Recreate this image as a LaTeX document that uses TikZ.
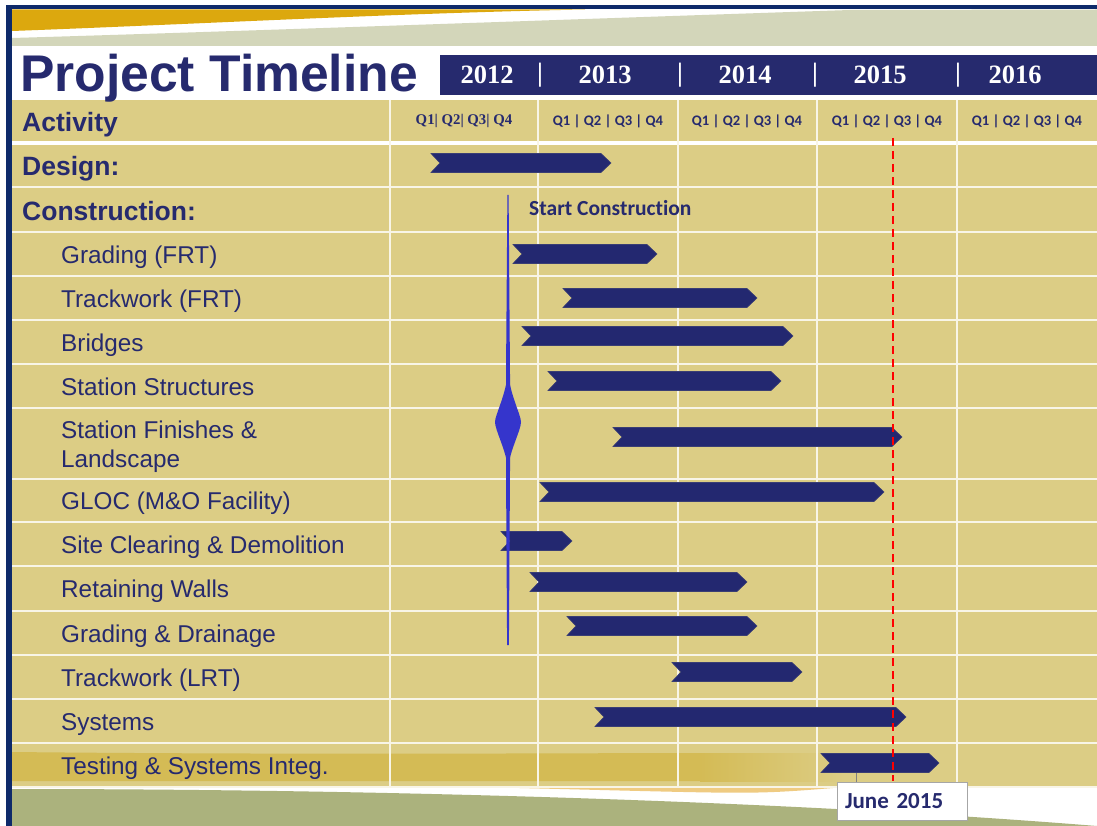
\documentclass[tikz,border=0pt]{standalone}
\usepackage{fontspec}
\setmainfont{Liberation Sans}
\newfontfamily\calfont[Ligatures=NoCommon]{Carlito}
\newfontfamily\tmsfont{Liberation Serif}
\usetikzlibrary{positioning}

\definecolor{ink}{HTML}{262A6E}
\definecolor{barblue}{HTML}{232870}
\definecolor{sheet}{HTML}{DCCD85}
\definecolor{stripe}{HTML}{D4BB55}
\definecolor{bordernavy}{HTML}{0E2A6A}
\definecolor{swgold}{HTML}{DCA80E}
\definecolor{sage}{HTML}{D3D6BA}
\definecolor{olivegreen}{HTML}{ABB27D}
\definecolor{peach}{HTML}{EFCB82}
\definecolor{msblue}{HTML}{3535CC}

% one task: centre y, start x, end x
\newcommand\taskbar[3]{%
  \filldraw[barfill] (#2,#1-9.5) -- (#3-10,#1-9.5) -- (#3,#1) -- (#3-10,#1+9.5)
    -- (#2,#1+9.5) -- (#2+9,#1) -- cycle;}

\begin{document}
\begin{tikzpicture}[x=1pt,y=-1pt,
    lbl/.style={anchor=west,inner sep=0pt,text=ink,
      font=\fontsize{24.3}{29}\selectfont,text height=17.4pt,text depth=0pt},
    grouplbl/.style={lbl,font=\bfseries\fontsize{26.5}{32}\selectfont,text height=19pt},
    year/.style={text=white,inner sep=0pt,font=\tmsfont\bfseries\fontsize{26.5}{32}\selectfont},
    quarter/.style={text=ink,inner sep=0pt,font=\calfont\bfseries\fontsize{14.6}{17}\selectfont},
    gridline/.style={white!80!sheet,line width=1.5pt},
    barfill/.style={fill=barblue,draw=barblue!75!gray,line width=0.6pt}]
  \useasboundingbox (0,0) rectangle (1097,826);

  % background and swooshes
  \fill[white] (0,0) rectangle (1097,826);
  \fill[swgold] (12,9.5) -- (585,9.5) .. controls (400,13) and (200,24) .. (12,31) -- cycle;
  \fill[sage] (12,38) .. controls (250,31) and (550,20) .. (850,10) -- (1097,9.5)
    -- (1097,46) -- (12,46) -- cycle;
  \fill[sheet] (12,100) rectangle (1097,787);
  \fill[stripe] (12,752) .. controls (300,755) and (600,753) .. (700,753)
    -- (700,781) -- (12,781) -- cycle;
  \shade[left color=stripe,right color=sheet] (700,753) rectangle (845,781);
  \fill[peach] (480,787) -- (845,787) .. controls (760,794) .. (600,790) -- cycle;
  \fill[olivegreen] (12,789) .. controls (400,789) and (800,802) .. (1097,826)
    -- (12,826) -- cycle;
  \fill[bordernavy] (6,5) rectangle (1097,9.5);
  \fill[bordernavy] (6,5) rectangle (12,826);

  % title and years
  \node[anchor=base west,inner sep=0pt,text=ink,font=\bfseries\fontsize{51.6}{60}\selectfont]
    (title) at (20,92) {Project Timeline};
  \fill[ink] (440,55) rectangle (1097,95);
  \foreach \x/\t [count=\i] in {487/2012,605/2013,745/2014,880/2015,1015/2016}
    \node[year] (y\i) at (\x,75) {\t};
  \foreach \x [count=\i] in {540,680,815,958}
    \node[year] (sep\i) at (\x,75) {|};

  % grid
  \foreach \y in {187,232,276,320,364,408,479,522,566,611,655,699,743,787}
    \draw[gridline] (12,\y) -- (1097,\y);
  \draw[white,line width=3.5pt] (12,143) -- (1097,143);
  \foreach \x in {390,538,678,817,957}
    \draw[gridline] (\x,100) -- (\x,787);

  % header row
  \node[grouplbl] (activity) at (22,122) {Activity};
  \node[quarter,font=\tmsfont\bfseries\fontsize{14.8}{17}\selectfont] (q1) at (464,121) {Q1| Q2| Q3| Q4};
  \foreach \x [count=\i from 2] in {608,747,887,1027}
    \node[quarter] (q\i) at (\x,121) {Q1 | Q2 | Q3 | Q4};

  % activities
  \node[grouplbl] (design) at (22,166) {Design:};
  \node[grouplbl] (constr) at (22,211) {Construction:};
  \node[lbl] (gradfrt) at (61,255) {Grading (FRT)};
  \node[lbl] (trackfrt) at (61,299) {Trackwork (FRT)};
  \node[lbl] (bridges) at (61,343) {Bridges};
  \node[lbl] (ststruct) at (61,387) {Station Structures};
  \node[lbl] (stfin) at (61,430) {Station Finishes \&};
  \node[lbl] (landsc) at (61,459) {Landscape};
  \node[lbl] (gloc) at (61,501) {GLOC (M\&O Facility)};
  \node[lbl] (siteclr) at (61,545) {Site Clearing \& Demolition};
  \node[lbl] (retwall) at (61,589) {Retaining Walls};
  \node[lbl] (graddr) at (61,634) {Grading \& Drainage};
  \node[lbl] (tracklrt) at (61,678) {Trackwork (LRT)};
  \node[lbl] (systems) at (61,722) {Systems};
  \node[lbl] (testing) at (61,766) {Testing \& Systems Integ.};

  % bars
  \foreach \y/\a/\b in {163/431/611,254/513/657,298/563/757,336/522/793,
      381/548/781,437/613/902,492/540/884,541/501/572,582/530/747,
      626/567/757,672/672/802,717/595/906,763/821/939}
    {\taskbar{\y}{\a}{\b}}

  % start of construction
  \fill[msblue] (507.4,195) -- (508.6,195) -- (510,375) -- (510,470) -- (508.9,645)
    -- (507.1,645) -- (506,470) -- (506,375) -- cycle;
  \fill[msblue] (508,372) .. controls (510,395) and (521,415) .. (521,422)
    .. controls (521,430) and (510,450) .. (508,468)
    .. controls (506,450) and (495,430) .. (495,422)
    .. controls (495,415) and (506,395) .. (508,372) -- cycle;
  \node[anchor=west,inner sep=0pt,text=ink,font=\calfont\bfseries\fontsize{21.5}{25}\selectfont]
    (startc) at (529,208) {Start Construction};

  % today line
  \coordinate (nowtop) at (893,138);
  \coordinate (nowbot) at (893,781);
  \draw[red,line width=2.5pt,dash pattern=on 8pt off 5pt] (nowtop) -- (nowbot);

  \node[draw=gray!70,fill=white,text=ink,font=\calfont\bfseries\fontsize{23}{26}\selectfont,
    text width=114pt,inner xsep=8pt,inner ysep=0pt,align=left,minimum height=38pt]
    (june) at (902,801) {June 2015};
  \coordinate (tick) at (856,773);
  \draw[gray,line width=0.8pt] (tick) -- (tick |- june.north);
\end{tikzpicture}
\end{document}
